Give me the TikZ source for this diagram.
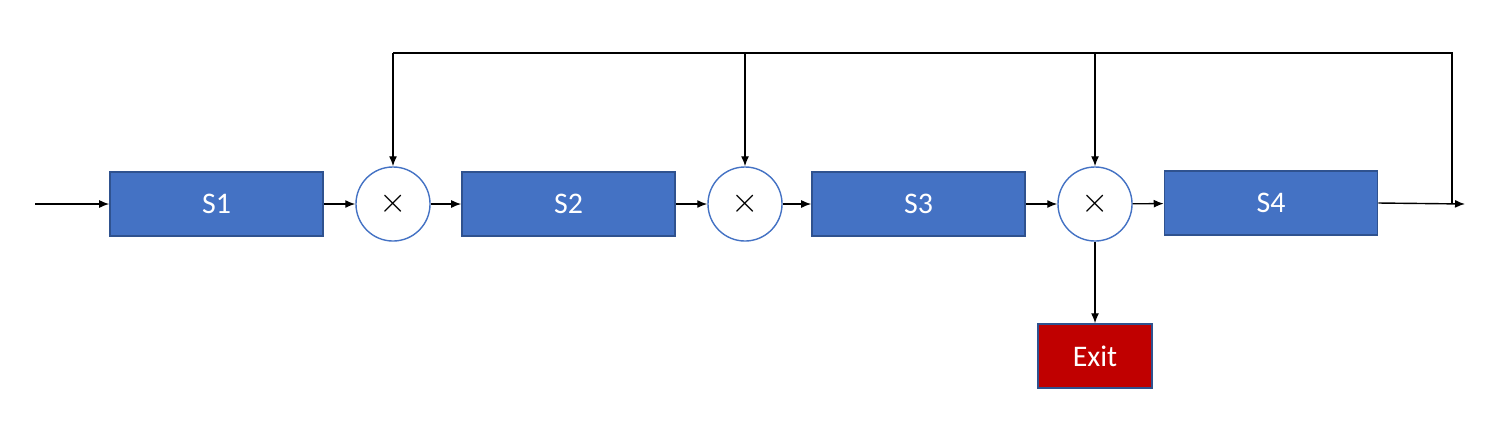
\documentclass[tikz,border=0pt]{standalone}
\usepackage{fontspec}
\setmainfont{Carlito}
\usetikzlibrary{arrows.meta,positioning}
\definecolor{stageBlue}{HTML}{4472C4}
\definecolor{stageEdge}{HTML}{2F528F}
\definecolor{exitRed}{HTML}{C00000}
\begin{document}
\begin{tikzpicture}[x=0.01cm,y=-0.01cm,
rectStage/.style={rectangle, draw=stageEdge, fill=stageBlue, minimum width=2.13cm, minimum height=0.64cm, text=white, font=\fontsize{8.5}{10}\selectfont, line width=0.4pt},
rectExit/.style={rectangle, draw=stageEdge, fill=exitRed, minimum width=1.14cm, minimum height=0.64cm, text=white, font=\fontsize{8.5}{10}\selectfont, line width=0.4pt},
circMul/.style={circle, draw=stageBlue, fill=white, minimum size=0.74cm, inner sep=0pt, line width=0.4pt},
arr/.style={-{Latex[length=1mm,width=0.8mm]}, line width=0.4pt}]

\useasboundingbox (0,0) rectangle (1504,424);

\coordinate (in) at (35,204);
\node[rectStage] (s1) at (216.5,204) {S1};
\node[circMul] (m1) at (393,204) {$\times$};
\node[rectStage] (s2) at (568.5,204) {S2};
\node[circMul] (m2) at (745,204) {$\times$};
\node[rectStage] (s3) at (918.5,204) {S3};
\node[circMul] (m3) at (1095,204) {$\times$};
\node[rectStage] (s4) at (1271,203) {S4};
\coordinate (out) at (1465,204);
\coordinate (fb) at (1452,204);
\coordinate (top) at (1452,53);
\node[rectExit] (exit) at (1095,356) {Exit};

\draw[arr] (in) -- (s1);
\draw[arr] (s1) -- (m1);
\draw[arr] (m1) -- (s2);
\draw[arr] (s2) -- (m2);
\draw[arr] (m2) -- (s3);
\draw[arr] (s3) -- (m3);
\draw[arr] (m3) -- (s4);
\draw[arr] (s4.east) -- (out);
\draw[arr] (m3) -- (exit);

\draw[line width=0.4pt] (fb) -- (top) -- (m1 |- top);
\draw[arr] (m1 |- top) -- (m1);
\draw[arr] (m2 |- top) -- (m2);
\draw[arr] (m3 |- top) -- (m3);

\end{tikzpicture}
\end{document}
